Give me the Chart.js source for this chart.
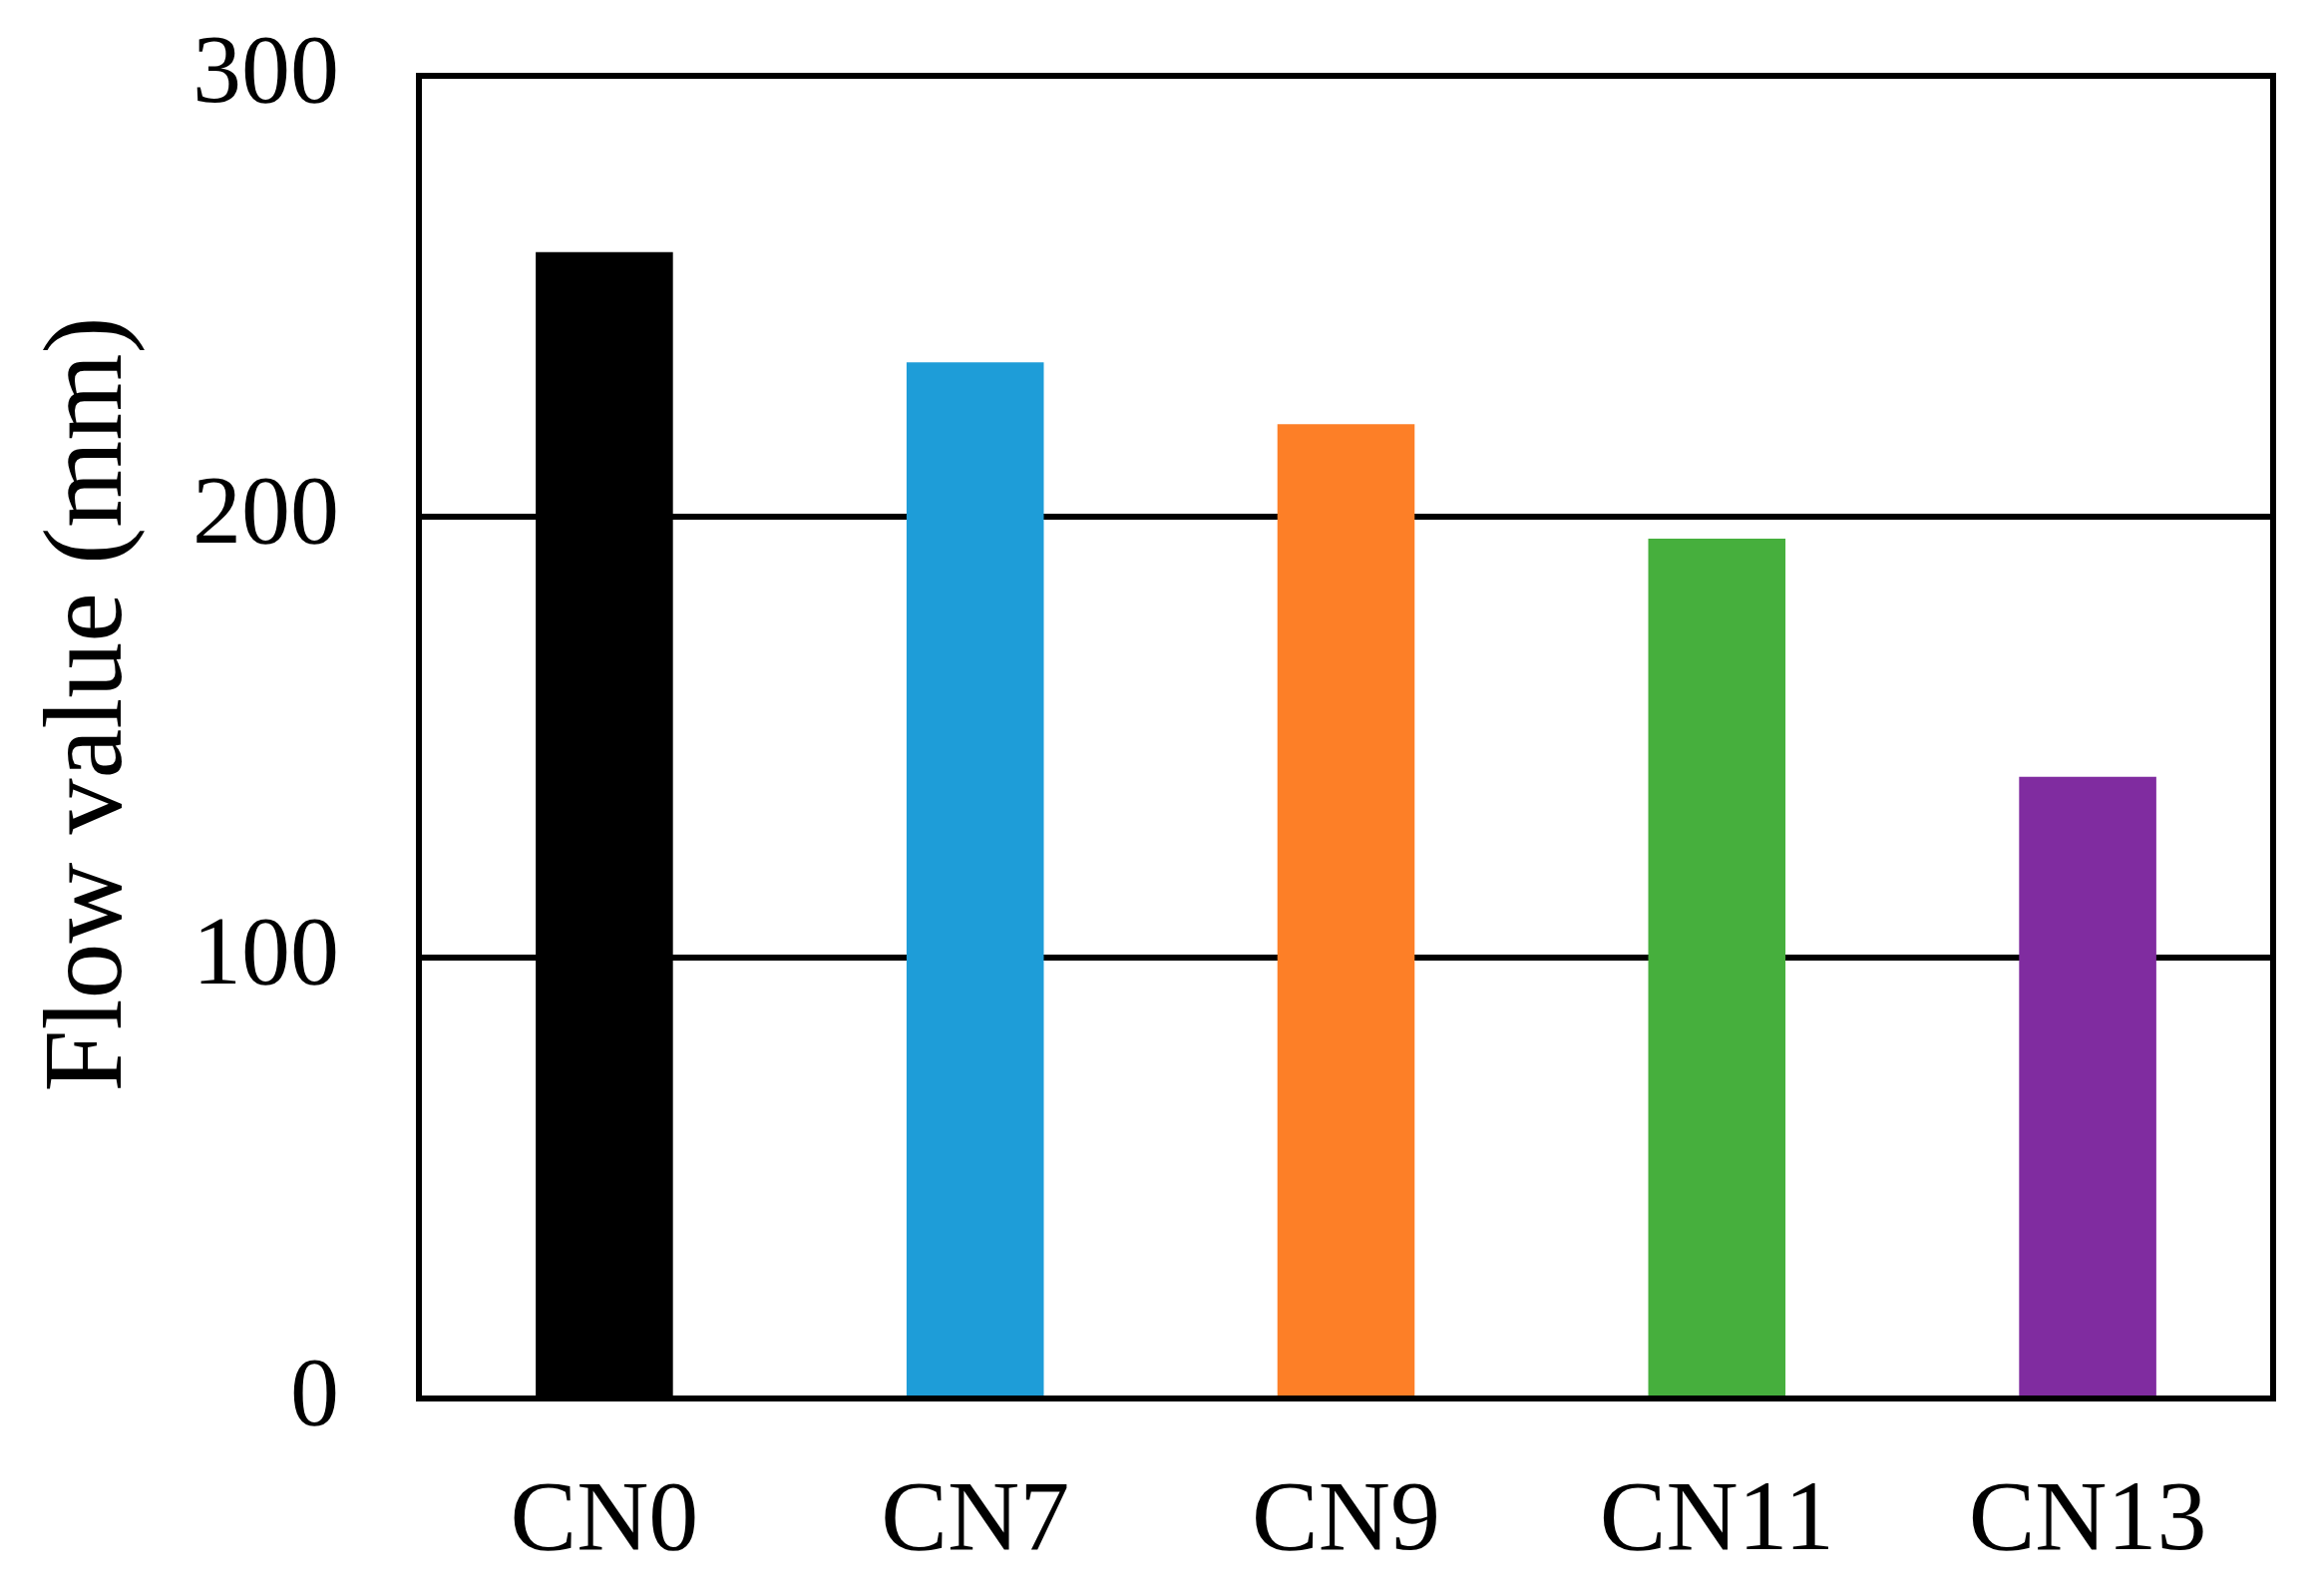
<!DOCTYPE html>
<html>
<head>
<meta charset="utf-8">
<script src="https://cdn.jsdelivr.net/npm/chart.js@4/dist/chart.umd.min.js"></script>
<style>
  html, body { margin: 0; padding: 0; background: #fff; }
  #wrap { width: 2324px; height: 1600px; }
</style>
</head>
<body>
<div id="wrap"><canvas id="flowChart" width="2324" height="1600"></canvas></div>
<script>
// Flow value per mix
const categories = ['CN0', 'CN7', 'CN9', 'CN11', 'CN13'];
const flowValues = [260, 235, 221, 195, 141];
const barColors = ['#000000', '#1E9DD8', '#FD7F27', '#46AF3D', '#802CA0'];
const yTicks = [0, 100, 200, 300];
const yTitle = 'Flow value (mm)';

const serif = '"Liberation Serif", "Times New Roman", serif';

// closes the box around the plot (top + right edges)
const frame = {
    id: 'frame',
    afterDraw(chart) {
        const { ctx, chartArea: a } = chart;
        ctx.save();
        ctx.strokeStyle = '#000';
        ctx.lineWidth = 6;
        ctx.strokeRect(a.left, a.top, a.right - a.left, a.bottom - a.top);
        ctx.restore();
    }
};

// y title drawn by hand: in the original it sits a bit above the plot's middle
const sideTitle = {
    id: 'sideTitle',
    afterDraw(chart) {
        const { ctx, chartArea: a } = chart;
        ctx.save();
        ctx.translate(92, (a.top + a.bottom) / 2 - 33);
        ctx.rotate(-Math.PI / 2);
        ctx.fillStyle = '#000';
        ctx.font = '112px ' + serif;
        ctx.textAlign = 'center';
        ctx.textBaseline = 'middle';
        ctx.fillText(yTitle, 0, 0);
        ctx.restore();
    }
};

new Chart(document.getElementById('flowChart').getContext('2d'), {
    type: 'bar',
    data: {
        labels: categories,
        datasets: [{
            data: flowValues,
            backgroundColor: barColors,
            borderWidth: 0,
            categoryPercentage: 1.0,
            barPercentage: 0.37
        }]
    },
    options: {
        responsive: false,
        animation: false,
        layout: { padding: { top: 76, right: 45, left: 0, bottom: 0 } },
        plugins: {
            legend: { display: false },
            tooltip: { enabled: false }
        },
        scales: {
            x: {
                afterFit: (s) => { s.height = 198; },
                grid: { display: false },
                border: { display: true, color: '#000', width: 6 },
                ticks: {
                    color: '#000',
                    padding: 57,
                    font: { family: serif, size: 100 }
                }
            },
            y: {
                min: yTicks[0],
                max: yTicks[yTicks.length - 1],
                afterFit: (s) => {
                    s.width = 420;
                    // labels may hang over the top, the layout padding already covers it
                    s.paddingTop = 0;
                    s.paddingBottom = 0;
                },
                afterBuildTicks: (s) => { s.ticks = yTicks.map(v => ({ value: v })); },
                grid: { color: '#000', lineWidth: 6, drawTicks: false },
                border: { display: true, color: '#000', width: 6 },
                ticks: {
                    color: '#000',
                    padding: 80,
                    font: { family: serif, size: 98 }
                }
            }
        }
    },
    plugins: [frame, sideTitle]
});
</script>
</body>
</html>
